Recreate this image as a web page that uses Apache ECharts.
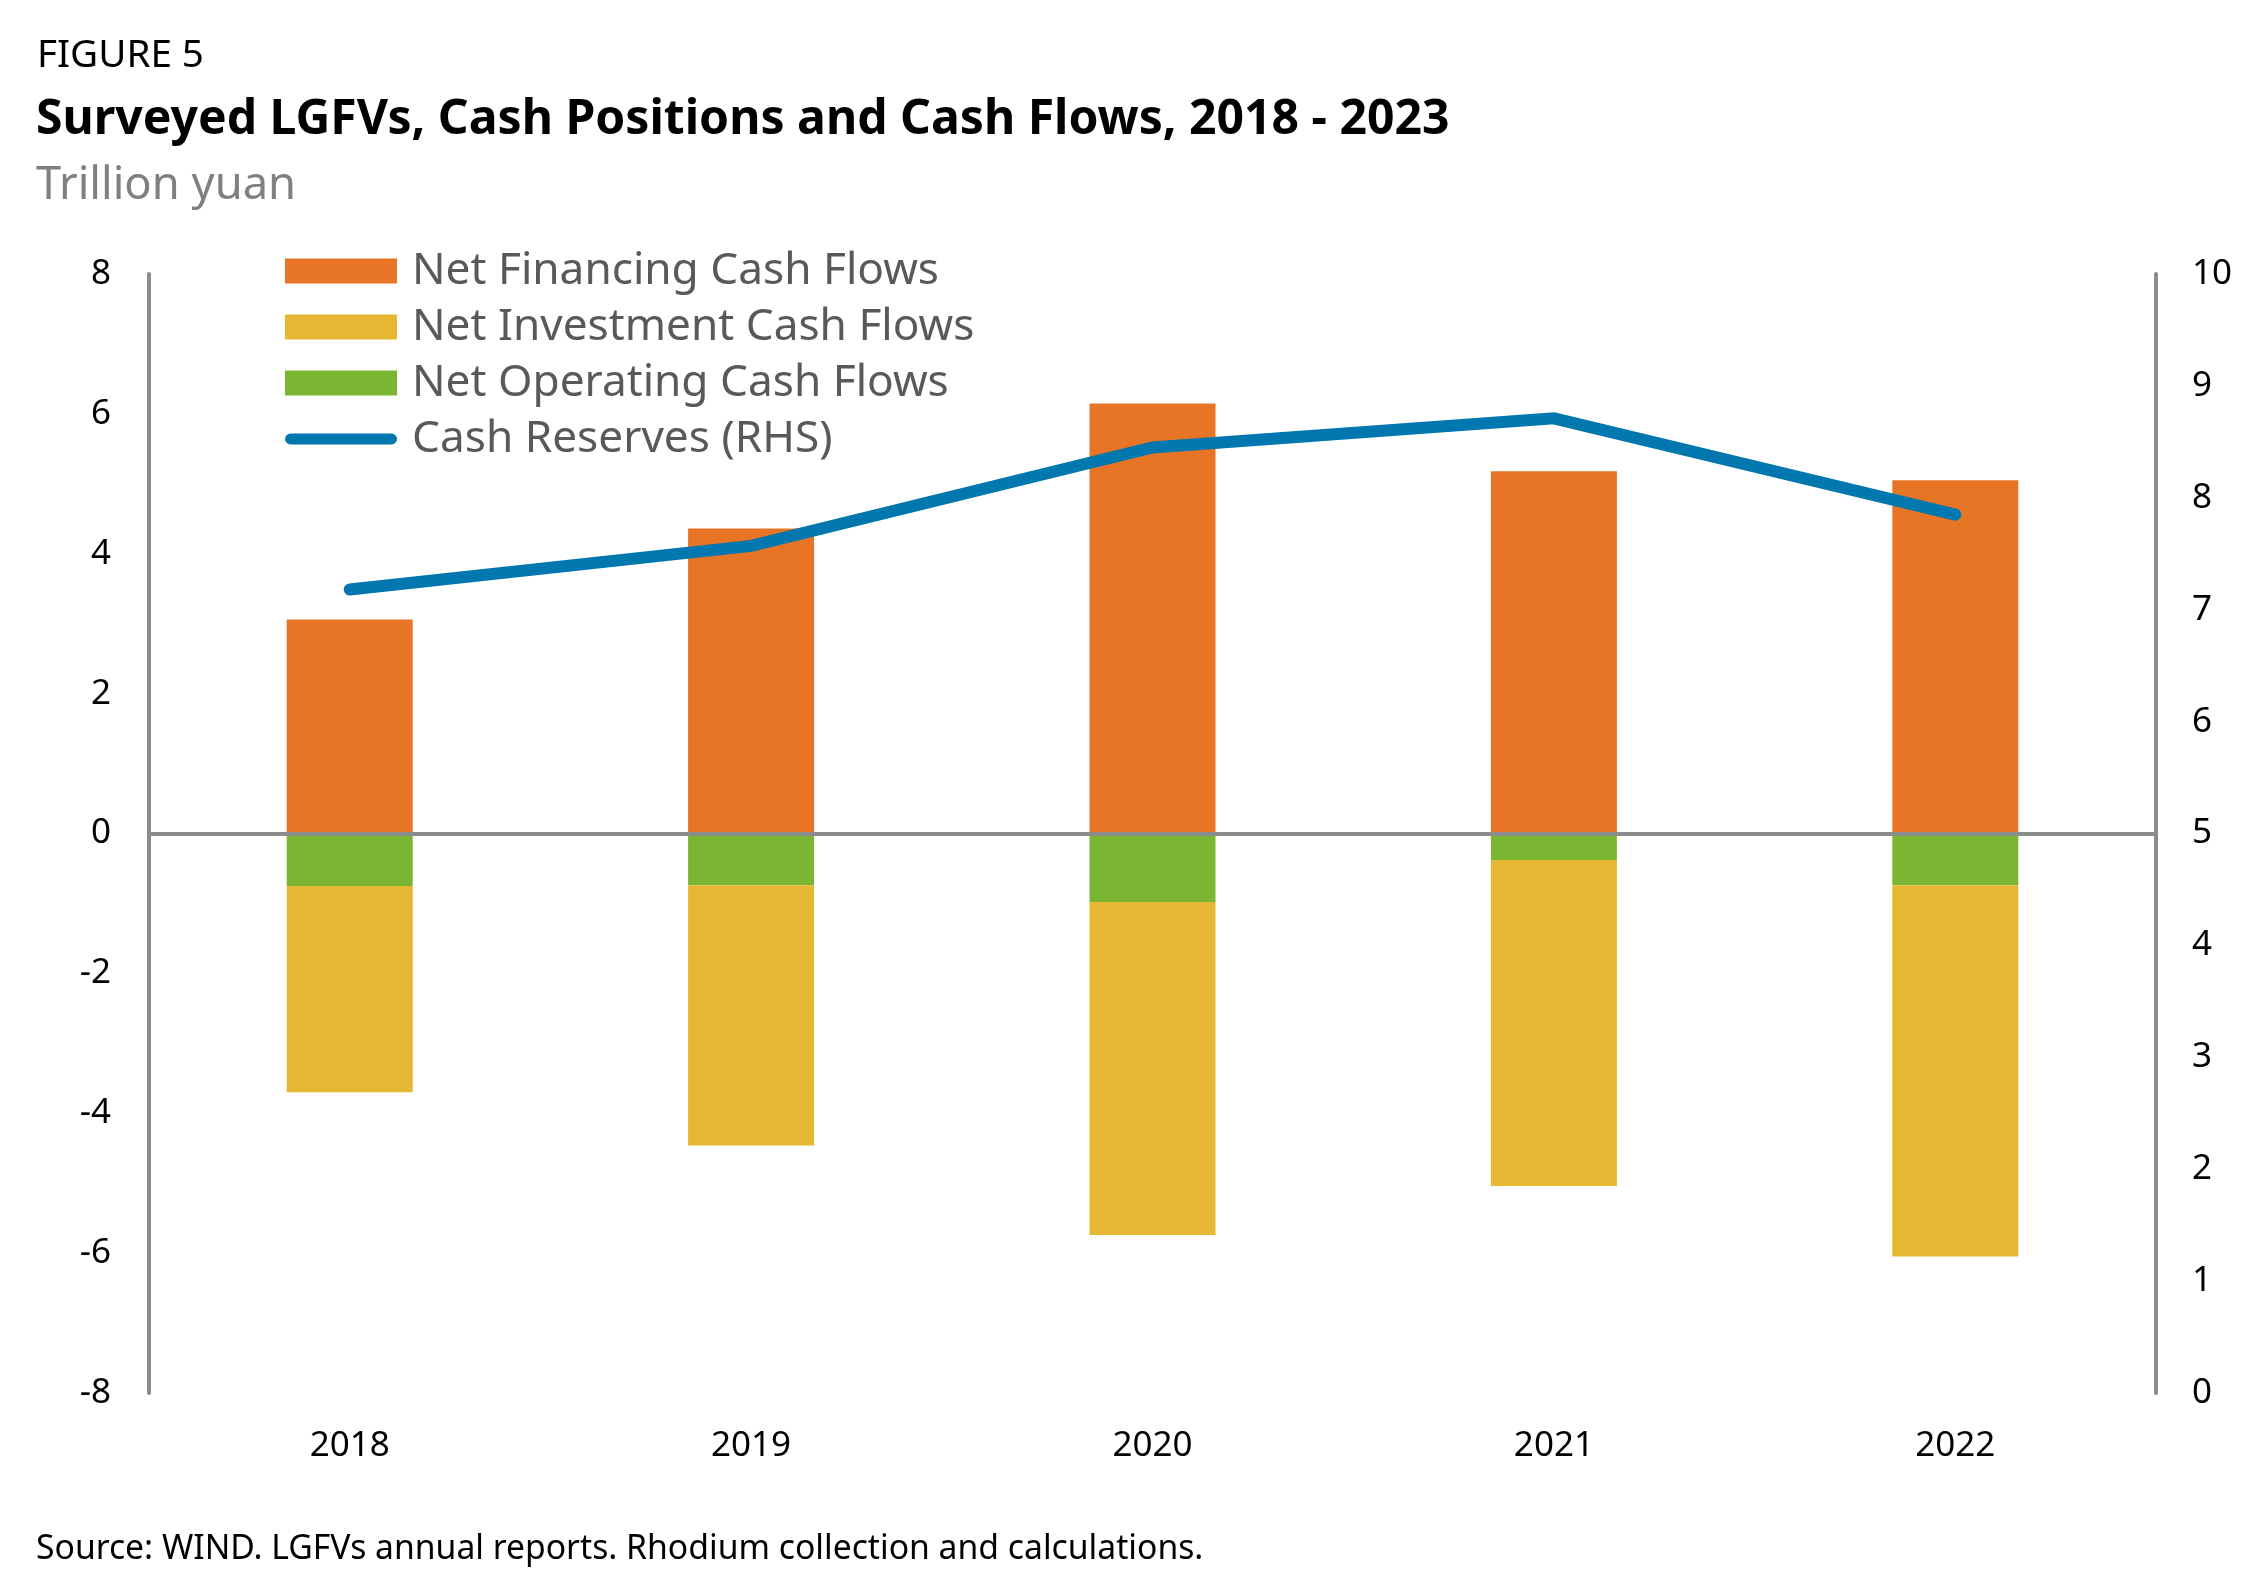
<!DOCTYPE html>
<html>
<head>
<meta charset="utf-8">
<script src="https://cdn.jsdelivr.net/npm/echarts@6/dist/echarts.min.js"></script>
<style>
html,body{margin:0;padding:0;background:#fff;}
#chart{width:2268px;height:1591px;}
</style>
</head>
<body>
<div id="chart"></div>
<script>
const categories = ['2018', '2019', '2020', '2021', '2022'];
const netFinancing = [3.06, 4.36, 6.15, 5.18, 5.05];
const netOperating = [-0.75, -0.74, -0.98, -0.38, -0.74];
const netInvestment = [-2.95, -3.72, -4.76, -4.66, -5.31];
const cashReserves = [7.18, 7.57, 8.45, 8.71, 7.85];
const seriesNames = ['Net Financing Cash Flows', 'Net Investment Cash Flows', 'Net Operating Cash Flows', 'Cash Reserves (RHS)'];
const figureLabel = 'FIGURE 5';
const titleText = 'Surveyed LGFVs, Cash Positions and Cash Flows, 2018 - 2023';
const subtitleText = 'Trillion yuan';
const sourceText = 'Source: WIND. LGFVs annual reports. Rhodium collection and calculations.';

const FONT = '"Noto Sans", "Open Sans", sans-serif';
const mctx = document.createElement('canvas').getContext('2d');
function fitSize(text, weight, target) {
  mctx.font = weight + ' 100px ' + FONT;
  const w = mctx.measureText(text).width;
  return Math.round(100 * target / w * 10) / 10;
}
const figSize = fitSize(figureLabel, 'normal', 167);
const titleSize = fitSize(titleText, 'bold', 1413);
const subSize = fitSize(subtitleText, 'normal', 260);
const legendSize = fitSize(seriesNames[1], 'normal', 562);
const srcSize = fitSize(sourceText, 'normal', 1167);
const axisSize = fitSize('2018', 'normal', 80);

const C_ORANGE = '#E87526';
const C_YELLOW = '#E6B732';
const C_GREEN = '#7AB632';
const C_BLUE = '#0077AE';
const C_AXIS = '#8C8C8C';

const chart = echarts.init(document.getElementById('chart'), null, {renderer: 'canvas'});

function gtext(text, x, y, size, weight, fill) {
  return {
    type: 'text', x: x, y: y,
    style: {
      text: text, fontSize: size, fontWeight: weight, fontFamily: FONT, fill: fill,
      align: 'left', verticalAlign: 'middle', textAlign: 'left', textVerticalAlign: 'middle'
    }
  };
}

const option = {
  backgroundColor: '#ffffff',
  animation: false,
  textStyle: {fontFamily: FONT},
  graphic: [
    gtext(figureLabel, 37, 56, figSize, 'normal', '#000000'),
    gtext(titleText, 36, 120, titleSize, 'bold', '#000000'),
    gtext(subtitleText, 36, 186, subSize, 'normal', '#808080'),
    gtext(sourceText, 36, 1549, srcSize, 'normal', '#000000')
  ],
  grid: {left: 149, right: 112, top: 274, bottom: 198, containLabel: false},
  legend: {
    orient: 'vertical',
    left: 285,
    top: 249,
    padding: 0,
    itemWidth: 112,
    itemHeight: 25,
    itemGap: 12,
    itemTextGap: 5,
    icon: 'rect',
    textStyle: {fontSize: legendSize, color: '#595959', lineHeight: 44, fontFamily: FONT, padding: [0, 0, 0, 10]},
    data: [
      {name: seriesNames[0]},
      {name: seriesNames[1]},
      {name: seriesNames[2]},
      {name: seriesNames[3], icon: 'path://M6,0 H118 A6,6 0 0 1 118,12 H6 A6,6 0 0 1 6,0 Z', itemStyle: {color: C_BLUE}}
    ]
  },
  xAxis: {
    type: 'category',
    data: categories,
    boundaryGap: true,
    axisLine: {show: false},
    axisTick: {show: false},
    splitLine: {show: false},
    axisLabel: {fontSize: axisSize, color: '#000000', margin: 36, fontFamily: FONT}
  },
  yAxis: [
    {
      type: 'value', min: -8, max: 8, interval: 2,
      axisLine: {show: true, lineStyle: {color: C_AXIS, width: 4}},
      axisTick: {show: false},
      splitLine: {show: false},
      axisLabel: {fontSize: axisSize, color: '#000000', margin: 38, fontFamily: FONT}
    },
    {
      type: 'value', min: 0, max: 10, interval: 1, position: 'right',
      axisLine: {show: true, lineStyle: {color: C_AXIS, width: 4}},
      axisTick: {show: false},
      splitLine: {show: false},
      axisLabel: {fontSize: axisSize, color: '#000000', margin: 36, fontFamily: FONT}
    }
  ],
  series: [
    {
      name: seriesNames[0], type: 'bar', stack: 'cf', barWidth: 126,
      itemStyle: {color: C_ORANGE},
      data: netFinancing,
      markLine: {
        silent: true, symbol: ['none', 'none'], label: {show: false},
        lineStyle: {color: C_AXIS, width: 4, type: 'solid'},
        emphasis: {disabled: true},
        data: [{yAxis: 0}]
      }
    },
    {
      name: seriesNames[2], type: 'bar', stack: 'cf', barWidth: 126,
      itemStyle: {color: C_GREEN},
      data: netOperating
    },
    {
      name: seriesNames[1], type: 'bar', stack: 'cf', barWidth: 126,
      itemStyle: {color: C_YELLOW},
      data: netInvestment
    },
    {
      name: seriesNames[3], type: 'line', yAxisIndex: 1,
      symbol: 'none', showSymbol: false, z: 4,
      itemStyle: {color: C_BLUE},
      lineStyle: {color: C_BLUE, width: 12, cap: 'round', join: 'miter'},
      data: cashReserves
    }
  ]
};
chart.setOption(option);
</script>
</body>
</html>
